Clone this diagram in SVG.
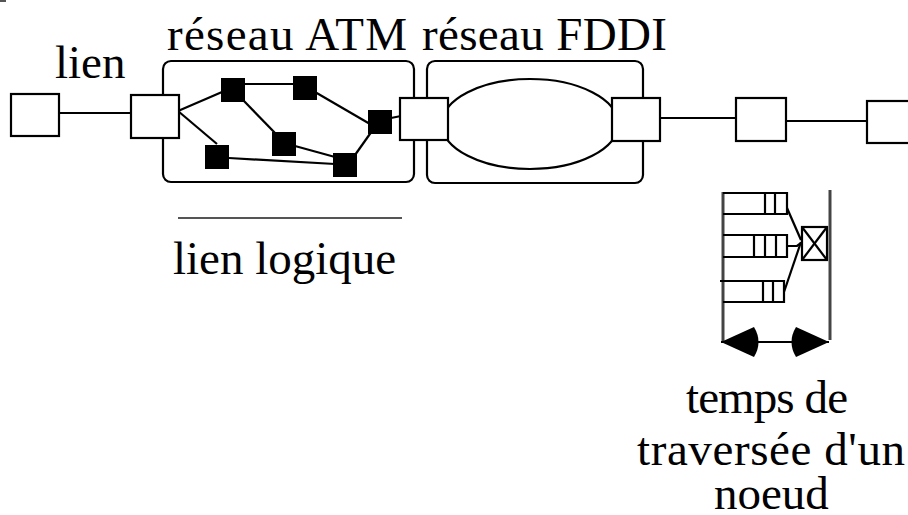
<svg xmlns="http://www.w3.org/2000/svg" width="908" height="515" viewBox="0 0 908 515">
<style>
  .box { fill: #fff; stroke: #000; stroke-width: 2.2; }
  .net { fill: none; stroke: #000; stroke-width: 2.2; }
  .sw { fill: #000; stroke: none; }
  .ln { fill: none; stroke: #000; stroke-width: 2.2; }
  .gray { fill: none; stroke: #444; stroke-width: 3; }
  .lbl { font-size: 47px; fill: #000; }
</style>
<defs>
  <marker id="head" viewBox="0 0 42 32" refX="40" refY="16" markerWidth="42" markerHeight="32" markerUnits="userSpaceOnUse" orient="auto-start-reverse">
    <path d="M7,1 Q-2,16 7,31 L40,16 Z" fill="#000"/>
  </marker>
</defs>
<rect x="0" y="0" width="6" height="2" fill="#555"/>

<g id="labels" font-family="Liberation Serif, Tinos, DejaVu Serif, serif">
  <text class="lbl" x="55" y="78">lien</text>
  <text class="lbl" x="167" y="50" textLength="240" lengthAdjust="spacing">réseau ATM</text>
  <text class="lbl" x="422" y="50" textLength="245" lengthAdjust="spacing">réseau FDDI</text>
  <text class="lbl" x="173" y="274">lien logique</text>
  <text class="lbl" x="686" y="413" textLength="162" lengthAdjust="spacing">temps de</text>
  <text class="lbl" x="637" y="465" textLength="268" lengthAdjust="spacing">traversée d'un</text>
  <text class="lbl" x="714" y="509">noeud</text>
</g>

<g id="atm-network">
  <rect class="net" x="163" y="61" width="251" height="121" rx="8" ry="8"/>
</g>
<g id="fddi-network">
  <rect class="net" x="427" y="61" width="216" height="122" rx="8" ry="8"/>
  <ellipse class="net" cx="530" cy="124" rx="88" ry="45"/>
</g>

<g id="connectors">
  <line class="ln" x1="59" y1="113" x2="131" y2="113"/>
  <line class="ln" x1="178" y1="111" x2="222" y2="92"/>
  <line class="ln" x1="178" y1="111" x2="217" y2="144"/>
  <line class="ln" x1="245" y1="84" x2="293" y2="84"/>
  <line class="ln" x1="243" y1="100" x2="276" y2="134"/>
  <line class="ln" x1="315" y1="92" x2="370" y2="124"/>
  <line class="ln" x1="295" y1="146" x2="335" y2="157"/>
  <line class="ln" x1="229" y1="158" x2="335" y2="164"/>
  <line class="ln" x1="355" y1="155" x2="372" y2="131"/>
  <line class="ln" x1="391" y1="118" x2="401" y2="116"/>
  <line class="ln" x1="660" y1="118" x2="736" y2="118"/>
  <line class="ln" x1="786" y1="121" x2="867" y2="121"/>
  <line x1="178" y1="218" x2="402" y2="218" stroke="#555" stroke-width="2.2"/>
</g>

<g id="host1"><rect class="box" x="11" y="94" width="48" height="42"/></g>
<g id="router-atm-in"><rect class="box" x="131" y="95" width="48" height="43"/></g>
<g id="sw-a"><rect class="sw" x="221" y="78" width="24" height="24"/></g>
<g id="sw-b"><rect class="sw" x="293" y="76" width="24" height="24"/></g>
<g id="sw-c"><rect class="sw" x="368" y="110" width="24" height="24"/></g>
<g id="sw-d"><rect class="sw" x="272" y="132" width="24" height="24"/></g>
<g id="sw-e"><rect class="sw" x="205" y="145" width="24" height="24"/></g>
<g id="sw-f"><rect class="sw" x="333" y="153" width="24" height="24"/></g>
<g id="router-atm-fddi"><rect class="box" x="400" y="98" width="48" height="42"/></g>
<g id="router-fddi-out"><rect class="box" x="612" y="98" width="48" height="43"/></g>
<g id="router-5"><rect class="box" x="736" y="98" width="50" height="43"/></g>
<g id="host2"><rect class="box" x="867" y="101" width="50" height="42"/></g>

<g id="node-detail">
  <line class="gray" x1="723" y1="192" x2="723" y2="342"/>
  <line class="gray" x1="830" y1="190" x2="830" y2="340"/>
  <path class="ln" d="M723,193 H787 V214 H723"/>
  <line class="ln" x1="765" y1="193" x2="765" y2="214"/>
  <line class="ln" x1="775" y1="193" x2="775" y2="214"/>
  <path class="ln" d="M723,235 H787 V257 H723"/>
  <line class="ln" x1="754" y1="235" x2="754" y2="257"/>
  <line class="ln" x1="765" y1="235" x2="765" y2="257"/>
  <line class="ln" x1="776" y1="235" x2="776" y2="257"/>
  <path class="ln" d="M720,281 H784 V302 H723"/>
  <line class="ln" x1="763" y1="281" x2="763" y2="302"/>
  <line class="ln" x1="773" y1="281" x2="773" y2="302"/>
  <line class="ln" x1="787" y1="208" x2="801" y2="240"/>
  <polyline class="ln" points="787,246 797,246 801,243"/>
  <line class="ln" x1="784" y1="292" x2="801" y2="242"/>
  <rect class="box" x="802" y="227" width="25" height="33"/>
  <line class="ln" x1="802" y1="227" x2="827" y2="260"/>
  <line class="ln" x1="827" y1="227" x2="802" y2="260"/>
  <line x1="721" y1="342" x2="829" y2="342" stroke="#000" stroke-width="2.2" marker-start="url(#head)" marker-end="url(#head)"/>
</g>
</svg>
